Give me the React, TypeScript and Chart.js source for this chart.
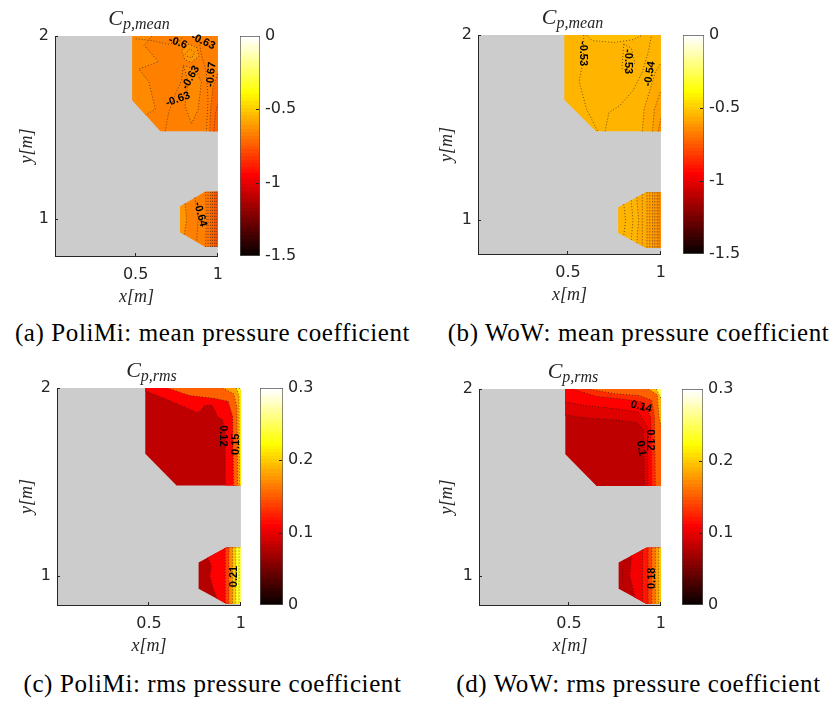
import React, { useEffect, useRef } from 'react';
import Chart from 'chart.js/auto';

type Pt = [number, number];
type Band = { v: number; line: Pt[]; rim: Pt[] };
type Lbl = { t: string; x: number; y: number; r: number };

// ---------- axes / colour scales ----------
const X_TICKS = [0.5, 1];
const Y_TICKS = [1, 2];
const MEAN_RANGE: Pt = [-1.5, 0];
const RMS_RANGE: Pt = [0, 0.3];
const MEAN_TICKS = [-1.5, -1, -0.5, 0];
const RMS_TICKS = [0, 0.1, 0.2, 0.3];

// ---------- measured regions (x, y in m) ----------
const REGION_UPPER: Pt[] = [[0.48, 2], [0.48, 1.65], [0.65, 1.48], [1, 1.48], [1, 2]];
const REGION_LOWER: Pt[] = [[0.92, 1.15], [0.77, 1.07], [0.77, 0.93], [0.92, 0.85], [1, 0.85], [1, 1.15]];
const RIM_UP_R: Pt[] = [[1, 1.48], [1, 2]];
const RIM_UP_RT: Pt[] = [[1, 1.48], [1, 2], [0.48, 2]];
const RIM_LO_A: Pt[] = [[0.92, 0.85], [1, 0.85], [1, 1.15], [0.92, 1.15]];
const RIM_LO_B: Pt[] = [[1, 0.85], [1, 1.15]];

// ---------- (a) PoliMi mean ----------
const A_UP_LEVEL = -0.67;
const A_UP_BANDS: Band[] = [
  { v: -0.645, line: [[0.6, 2], [0.55, 1.95], [0.64, 1.86], [0.52, 1.82], [0.58, 1.75], [0.62, 1.6], [0.56, 1.57]], rim: [[0.48, 1.65], [0.48, 2]] },
  { v: -0.645, line: [[0.79, 1.84], [0.86, 1.82], [0.9, 1.75], [0.88, 1.6], [0.84, 1.52], [0.8, 1.62], [0.82, 1.75], [0.79, 1.84]], rim: [] },
  { v: -0.61, line: [[0.78, 1.92], [0.82, 1.955], [0.87, 1.94], [0.885, 1.89], [0.84, 1.855], [0.8, 1.87], [0.78, 1.92]], rim: [] },
  { v: -0.71, line: [[0.95, 1.48], [0.955, 1.6], [0.97, 1.72], [1, 1.8]], rim: [[1, 1.48]] },
  { v: -0.75, line: [[0.975, 1.48], [0.985, 1.58], [1, 1.63]], rim: [[1, 1.48]] },
];
const A_UP_LINES: Pt[][] = [
  [[0.5, 1.985], [0.6, 1.975], [0.7, 1.955], [0.77, 1.975], [0.79, 2]],
  [[0.68, 1.48], [0.7, 1.58], [0.74, 1.68], [0.78, 1.76], [0.79, 1.84]],
  [[0.88, 2], [0.9, 1.9], [0.93, 1.8], [0.94, 1.65], [0.93, 1.48]],
  [[0.8, 1.9], [0.83, 1.93], [0.86, 1.91], [0.84, 1.88], [0.81, 1.89]],
];
const A_LO_LEVEL = -0.67;
const A_LO_BANDS: Band[] = [
  { v: -0.63, line: [[0.8, 1.086], [0.81, 1.0], [0.795, 0.917]], rim: [[0.77, 0.93], [0.77, 1.07]] },
  { v: -0.7, line: [[0.925, 1.15], [0.93, 1.0], [0.925, 0.85]], rim: RIM_LO_B },
  { v: -0.73, line: [[0.955, 1.15], [0.955, 0.85]], rim: RIM_LO_B },
  { v: -0.77, line: [[0.98, 1.15], [0.98, 0.85]], rim: RIM_LO_B },
];
const A_LO_LINES: Pt[][] = [
  [[0.86, 1.118], [0.88, 1.0], [0.87, 0.877]],
  [[0.94, 1.15], [0.94, 0.85]],
  [[0.967, 1.15], [0.967, 0.85]],
  [[0.99, 1.15], [0.99, 0.85]],
];
const A_LABELS: Lbl[] = [
  { t: '-0.6', x: 0.757, y: 1.964, r: 20 },
  { t: '-0.63', x: 0.91, y: 1.97, r: 25 },
  { t: '-0.63', x: 0.835, y: 1.773, r: -60 },
  { t: '-0.67', x: 0.96, y: 1.79, r: -85 },
  { t: '-0.63', x: 0.757, y: 1.655, r: -20 },
  { t: '-0.64', x: 0.893, y: 1.027, r: 75 },
];

// ---------- (b) WoW mean ----------
const B_UP_LEVEL = -0.55;
const B_UP_BANDS: Band[] = [
  { v: -0.53, line: [[0.6, 2], [0.63, 1.97], [0.75, 1.96], [0.85, 1.975], [0.9, 2]], rim: [] },
  { v: -0.57, line: [[0.9, 1.48], [0.91, 1.6], [0.94, 1.7], [0.97, 1.8], [1, 1.85]], rim: [[1, 1.48]] },
  { v: -0.6, line: [[0.955, 1.48], [0.965, 1.6], [1, 1.7]], rim: [[1, 1.48]] },
  { v: -0.64, line: [[0.985, 1.48], [1, 1.55]], rim: [[1, 1.48]] },
];
const B_UP_LINES: Pt[][] = [
  [[0.585, 2], [0.58, 1.85], [0.56, 1.75], [0.6, 1.6], [0.66, 1.48]],
  [[0.8, 1.95], [0.84, 1.93], [0.86, 1.85], [0.83, 1.8], [0.79, 1.82], [0.8, 1.95]],
  [[0.7, 1.48], [0.72, 1.58], [0.78, 1.62], [0.85, 1.7], [0.9, 1.8], [0.93, 1.9], [0.95, 2]],
];
const B_LO_LEVEL = -0.55;
const B_LO_BANDS: Band[] = [
  { v: -0.57, line: [[0.87, 1.123], [0.88, 1.0], [0.87, 0.877]], rim: RIM_LO_A },
  { v: -0.6, line: [[0.925, 1.15], [0.925, 0.85]], rim: RIM_LO_B },
  { v: -0.62, line: [[0.955, 1.15], [0.955, 0.85]], rim: RIM_LO_B },
  { v: -0.64, line: [[0.98, 1.15], [0.98, 0.85]], rim: RIM_LO_B },
];
const B_LO_LINES: Pt[][] = [
  [[0.8, 1.086], [0.81, 1.0], [0.8, 0.914]],
  [[0.84, 1.107], [0.85, 1.0], [0.84, 0.893]],
  [[0.9, 1.139], [0.9, 0.861]],
  [[0.94, 1.15], [0.94, 0.85]],
  [[0.967, 1.15], [0.967, 0.85]],
  [[0.99, 1.15], [0.99, 0.85]],
];
const B_LABELS: Lbl[] = [
  { t: '-0.53', x: 0.582, y: 1.9, r: 90 },
  { t: '-0.53', x: 0.824, y: 1.856, r: 90 },
  { t: '-0.54', x: 0.94, y: 1.79, r: -80 },
];

// ---------- (c) PoliMi rms ----------
const C_UP_LEVEL = 0.082;
const C_UP_BANDS: Band[] = [
  { v: 0.11, line: [[0.48, 1.985], [0.62, 1.93], [0.76, 1.87], [0.78, 1.875], [0.8, 1.905], [0.84, 1.91], [0.86, 1.88], [0.87, 1.85], [0.9, 1.83], [0.915, 1.75], [0.915, 1.48]], rim: RIM_UP_RT },
  { v: 0.15, line: [[0.6, 2], [0.72, 1.96], [0.85, 1.945], [0.93, 1.93], [0.955, 1.85], [0.96, 1.48]], rim: RIM_UP_R },
  { v: 0.18, line: [[0.9, 2], [0.96, 1.97], [0.978, 1.9], [0.982, 1.48]], rim: RIM_UP_R },
  { v: 0.22, line: [[0.975, 2], [0.99, 1.96], [0.993, 1.48]], rim: RIM_UP_R },
  { v: 0.27, line: [[0.99, 2], [1, 1.985]], rim: [[1, 2]] },
];
const C_UP_LINES: Pt[][] = [];
const C_LO_LEVEL = 0.077;
const C_LO_BANDS: Band[] = [
  { v: 0.11, line: [[0.82, 1.097], [0.84, 1.05], [0.83, 1.0], [0.85, 0.93], [0.87, 0.877]], rim: RIM_LO_A },
  { v: 0.14, line: [[0.915, 1.147], [0.915, 0.853]], rim: RIM_LO_A },
  { v: 0.17, line: [[0.935, 1.15], [0.935, 0.85]], rim: RIM_LO_B },
  { v: 0.2, line: [[0.955, 1.15], [0.955, 0.85]], rim: RIM_LO_B },
  { v: 0.23, line: [[0.972, 1.15], [0.972, 0.85]], rim: RIM_LO_B },
  { v: 0.25, line: [[0.99, 1.15], [0.99, 0.85]], rim: RIM_LO_B },
];
const C_LO_LINES: Pt[][] = [];
const C_LABELS: Lbl[] = [
  { t: '0.12', x: 0.905, y: 1.745, r: 90 },
  { t: '0.15', x: 0.972, y: 1.7, r: -90 },
  { t: '0.21', x: 0.964, y: 0.996, r: -90 },
];

// ---------- (d) WoW rms ----------
const D_UP_LEVEL = 0.082;
const D_UP_BANDS: Band[] = [
  { v: 0.095, line: [[0.48, 1.86], [0.6, 1.845], [0.75, 1.835], [0.87, 1.82], [0.905, 1.78], [0.91, 1.48]], rim: RIM_UP_RT },
  { v: 0.11, line: [[0.48, 1.93], [0.6, 1.91], [0.75, 1.895], [0.88, 1.875], [0.925, 1.8], [0.93, 1.48]], rim: RIM_UP_RT },
  { v: 0.13, line: [[0.52, 2], [0.65, 1.96], [0.8, 1.945], [0.9, 1.93], [0.945, 1.85], [0.95, 1.48]], rim: RIM_UP_R },
  { v: 0.15, line: [[0.6, 2], [0.75, 1.975], [0.88, 1.965], [0.95, 1.94], [0.965, 1.85], [0.97, 1.48]], rim: RIM_UP_R },
  { v: 0.19, line: [[0.93, 2], [0.98, 1.97], [0.99, 1.85], [1, 1.8]], rim: [[1, 2]] },
  { v: 0.25, line: [[0.975, 2], [1, 1.95]], rim: [[1, 2]] },
];
const D_UP_LINES: Pt[][] = [];
const D_LO_LEVEL = 0.082;
const D_LO_BANDS: Band[] = [
  { v: 0.105, line: [[0.84, 1.107], [0.83, 1.0], [0.86, 0.882]], rim: RIM_LO_A },
  { v: 0.12, line: [[0.9, 1.139], [0.9, 0.861]], rim: RIM_LO_A },
  { v: 0.14, line: [[0.93, 1.15], [0.93, 0.85]], rim: RIM_LO_B },
  { v: 0.16, line: [[0.95, 1.15], [0.95, 0.85]], rim: RIM_LO_B },
  { v: 0.18, line: [[0.97, 1.15], [0.97, 0.85]], rim: RIM_LO_B },
  { v: 0.2, line: [[0.988, 1.15], [0.988, 0.85]], rim: RIM_LO_B },
];
const D_LO_LINES: Pt[][] = [[[0.8, 1.086], [0.79, 1.0], [0.8, 0.914]]];
const D_LABELS: Lbl[] = [
  { t: '0.14', x: 0.893, y: 1.905, r: 15 },
  { t: '0.12', x: 0.942, y: 1.727, r: 90 },
  { t: '0.1', x: 0.893, y: 1.682, r: 80 },
  { t: '0.18', x: 0.954, y: 0.986, r: -90 },
];

const CAPTIONS = [
  '(a) PoliMi: mean pressure coefficient',
  '(b) WoW: mean pressure coefficient',
  '(c) PoliMi: rms pressure coefficient',
  '(d) WoW: rms pressure coefficient',
];

// ---------- helpers ----------
function hot(t: number): string {
  const k = Math.max(0, Math.min(63, Math.floor(t * 64)));
  const r = Math.min(1, (k + 1) / 24);
  const g = Math.max(0, Math.min(1, (k + 1 - 24) / 24));
  const b = Math.max(0, Math.min(1, (k + 1 - 48) / 16));
  return `rgb(${Math.round(r * 255)},${Math.round(g * 255)},${Math.round(b * 255)})`;
}

const AX = '#262626';
const TICK_FONT = { family: '"DejaVu Sans", sans-serif', size: 16 };
const AX_TITLE_FONT = { family: '"Liberation Serif", serif', size: 18, style: 'italic' as const };

function closed(pts: Pt[]) {
  const d = pts.map((p) => ({ x: p[0], y: p[1] }));
  d.push({ x: pts[0][0], y: pts[0][1] });
  return d;
}
function fillDs(pts: Pt[], color: string) {
  return {
    data: closed(pts), showLine: true, fill: 'shape', backgroundColor: color,
    borderColor: 'rgba(0,0,0,0)', borderWidth: 0, pointRadius: 0, tension: 0,
  };
}
function lineDs(pts: Pt[]) {
  return {
    data: pts.map((p) => ({ x: p[0], y: p[1] })), showLine: true, fill: false,
    borderColor: 'rgba(25,25,25,0.8)', borderWidth: 0.8, borderDash: [1, 2],
    pointRadius: 0, tension: 0,
  };
}

type PanelCfg = {
  range: Pt; upLevel: number; upBands: Band[]; upLines: Pt[][];
  loLevel: number; loBands: Band[]; loLines: Pt[][]; labels: Lbl[];
  xMin: number; yMin: number;
  canvas: { left: number; top: number; w: number; h: number };
  plot: { l: number; r: number; t: number; b: number };
};

function mainConfig(p: PanelCfg): any {
  const col = (v: number) => hot((v - p.range[0]) / (p.range[1] - p.range[0]));
  const ds: any[] = [];
  ds.push(fillDs(REGION_UPPER, col(p.upLevel)));
  p.upBands.forEach((b) => ds.push(fillDs([...b.line, ...b.rim], col(b.v))));
  ds.push(fillDs(REGION_LOWER, col(p.loLevel)));
  p.loBands.forEach((b) => ds.push(fillDs([...b.line, ...b.rim], col(b.v))));
  [...p.upBands.map((b) => b.line), ...p.loBands.map((b) => b.line), ...p.upLines, ...p.loLines]
    .forEach((l) => ds.push(lineDs(l)));
  ds.reverse();

  const c = p.canvas;
  const bgPlugin = {
    id: 'bg',
    beforeDraw(chart: any) {
      const { ctx, chartArea: a } = chart;
      ctx.save();
      ctx.fillStyle = '#cccccc';
      ctx.fillRect(a.left, a.top, a.right - a.left, a.bottom - a.top);
      ctx.restore();
    },
  };
  const tickPlugin = {
    id: 'inticks',
    afterDatasetsDraw(chart: any) {
      const { ctx, chartArea: a, scales } = chart;
      ctx.save();
      ctx.strokeStyle = AX;
      ctx.lineWidth = 1;
      ctx.beginPath();
      X_TICKS.forEach((v) => {
        const px = Math.round(scales.x.getPixelForValue(v)) - 0.5;
        ctx.moveTo(px, a.bottom); ctx.lineTo(px, a.bottom - 3);
      });
      Y_TICKS.forEach((v) => {
        const py = Math.round(scales.y.getPixelForValue(v)) + 0.5;
        ctx.moveTo(a.left, py); ctx.lineTo(a.left + 3, py);
      });
      ctx.stroke();
      ctx.restore();
    },
  };
  const labelPlugin = {
    id: 'clabels',
    afterDatasetsDraw(chart: any) {
      const { ctx, scales } = chart;
      ctx.save();
      ctx.font = 'bold 11px "Liberation Sans", sans-serif';
      ctx.fillStyle = '#000';
      ctx.textAlign = 'center';
      ctx.textBaseline = 'middle';
      p.labels.forEach((l) => {
        ctx.save();
        ctx.translate(scales.x.getPixelForValue(l.x), scales.y.getPixelForValue(l.y));
        ctx.rotate((l.r * Math.PI) / 180);
        ctx.fillText(l.t, 0, 0);
        ctx.restore();
      });
      ctx.restore();
    },
  };

  return {
    type: 'scatter',
    data: { datasets: ds },
    options: {
      responsive: false, animation: false, events: [],
      layout: { padding: { left: 0, right: c.w - (p.plot.r - c.left), top: p.plot.t - c.top, bottom: 0 } },
      plugins: { legend: { display: false }, tooltip: { enabled: false } },
      scales: {
        x: {
          type: 'linear', min: p.xMin, max: 1,
          grid: { display: false, drawTicks: false },
          border: { display: true, color: AX, width: 1 },
          ticks: { font: TICK_FONT, color: AX, padding: 9, autoSkip: false, maxRotation: 0, callback: (v: number) => String(v) },
          afterBuildTicks: (s: any) => { s.ticks = X_TICKS.map((v) => ({ value: v })); },
          afterFit: (s: any) => { s.height = c.h - (p.plot.b - c.top); },
          title: { display: true, text: 'x[m]', font: AX_TITLE_FONT, color: AX, padding: { top: 0, bottom: 0 } },
        },
        y: {
          type: 'linear', min: p.yMin, max: 2,
          grid: { display: false, drawTicks: false },
          border: { display: true, color: AX, width: 1 },
          ticks: { font: TICK_FONT, color: AX, padding: 6, autoSkip: false, callback: (v: number) => String(v) },
          afterBuildTicks: (s: any) => { s.ticks = Y_TICKS.map((v) => ({ value: v })); },
          afterFit: (s: any) => { s.width = p.plot.l - c.left; },
          title: { display: true, text: 'y[m]', font: AX_TITLE_FONT, color: AX, padding: { top: 16, bottom: 0 } },
        },
      },
    },
    plugins: [bgPlugin, tickPlugin, labelPlugin],
  };
}

type CbCfg = {
  range: Pt; ticks: number[];
  canvas: { left: number; top: number; w: number; h: number };
  bar: { l: number; r: number; t: number; b: number };
};

function cbConfig(p: CbCfg): any {
  const c = p.canvas;
  const grad = (ctx: any) => {
    const chart = ctx.chart;
    const a = chart.chartArea;
    if (!a) return '#000';
    const g = chart.ctx.createLinearGradient(0, a.bottom, 0, a.top);
    for (let k = 0; k < 64; k++) {
      const col = hot((k + 0.5) / 64);
      g.addColorStop(k / 64, col);
      g.addColorStop((k + 1) / 64, col);
    }
    return g;
  };
  const tickPlugin = {
    id: 'cbticks',
    afterDatasetsDraw(chart: any) {
      const { ctx, chartArea: a, scales } = chart;
      ctx.save();
      ctx.strokeStyle = AX;
      ctx.lineWidth = 1;
      ctx.beginPath();
      p.ticks.slice(1, -1).forEach((v) => {
        const py = Math.round(scales.y.getPixelForValue(v)) + 0.5;
        ctx.moveTo(a.right - 1, py); ctx.lineTo(a.right - 4, py);
      });
      ctx.stroke();
      ctx.restore();
    },
  };
  return {
    type: 'bar',
    data: {
      labels: [''],
      datasets: [{
        data: [[p.range[0], p.range[1]]], backgroundColor: grad, borderColor: '#555555',
        borderWidth: 1, borderSkipped: false, barPercentage: 1, categoryPercentage: 1,
      }],
    },
    options: {
      responsive: false, animation: false, events: [],
      layout: { padding: { left: p.bar.l - c.left, right: 0, top: p.bar.t - c.top, bottom: c.h - (p.bar.b - c.top) } },
      plugins: { legend: { display: false }, tooltip: { enabled: false } },
      scales: {
        x: { display: false },
        y: {
          position: 'right', min: p.range[0], max: p.range[1],
          grid: { display: false, drawTicks: false },
          border: { display: false },
          ticks: { font: TICK_FONT, color: AX, padding: 5, autoSkip: false, callback: (v: number) => String(v) },
          afterBuildTicks: (s: any) => { s.ticks = p.ticks.map((v) => ({ value: v })); },
          afterFit: (s: any) => { s.width = c.w - (p.bar.r - c.left); },
        },
      },
    },
    plugins: [tickPlugin],
  };
}

function ChartCanvas({ canvas, config }: { canvas: { left: number; top: number; w: number; h: number }; config: () => any }) {
  const ref = useRef<HTMLCanvasElement | null>(null);
  useEffect(() => {
    if (!ref.current) return;
    const chart = new Chart(ref.current, config());
    return () => chart.destroy();
  }, []);
  return (
    <canvas ref={ref} width={canvas.w} height={canvas.h}
      style={{ position: 'absolute', left: canvas.left, top: canvas.top, width: canvas.w, height: canvas.h }} />
  );
}

function Title({ plot, sub }: { plot: { l: number; r: number; t: number }; sub: string }) {
  const cx = (plot.l + plot.r) / 2;
  return (
    <div style={{
      position: 'absolute', left: cx - 100, width: 200, top: plot.t - 29, textAlign: 'center',
      fontFamily: '"Liberation Serif", serif', fontStyle: 'italic', color: '#262626', lineHeight: 1,
      fontSize: 22, whiteSpace: 'nowrap',
    }}>
      <span style={{ fontSize: 22 }}>C</span>
      <span style={{ fontSize: 16, position: 'relative', top: 4 }}>{sub}</span>
    </div>
  );
}

function Caption({ cx, top, text }: { cx: number; top: number; text: string }) {
  return (
    <div style={{
      position: 'absolute', left: cx - 220, width: 440, top, textAlign: 'center',
      fontFamily: '"Liberation Serif", serif', fontSize: 25, lineHeight: 1, letterSpacing: 0.6,
      color: '#000', whiteSpace: 'nowrap',
    }}>{text}</div>
  );
}

const PANELS: { main: PanelCfg; cb: CbCfg; sub: string }[] = [
  {
    sub: 'p,mean',
    main: {
      range: MEAN_RANGE, upLevel: A_UP_LEVEL, upBands: A_UP_BANDS, upLines: A_UP_LINES,
      loLevel: A_LO_LEVEL, loBands: A_LO_BANDS, loLines: A_LO_LINES, labels: A_LABELS,
      xMin: 0.01, yMin: 0.8,
      canvas: { left: 0, top: 0, w: 232, h: 308 }, plot: { l: 55, r: 223, t: 36, b: 256 },
    },
    cb: { range: MEAN_RANGE, ticks: MEAN_TICKS, canvas: { left: 232, top: 0, w: 90, h: 308 }, bar: { l: 240, r: 260, t: 36, b: 256 } },
  },
  {
    sub: 'p,mean',
    main: {
      range: MEAN_RANGE, upLevel: B_UP_LEVEL, upBands: B_UP_BANDS, upLines: B_UP_LINES,
      loLevel: B_LO_LEVEL, loBands: B_LO_BANDS, loLines: B_LO_LINES, labels: B_LABELS,
      xMin: 0.016, yMin: 0.817,
      canvas: { left: 420, top: 0, w: 255, h: 306 }, plot: { l: 478, r: 667, t: 35, b: 254 },
    },
    cb: { range: MEAN_RANGE, ticks: MEAN_TICKS, canvas: { left: 675, top: 0, w: 100, h: 306 }, bar: { l: 683, r: 704, t: 35, b: 254 } },
  },
  {
    sub: 'p,rms',
    main: {
      range: RMS_RANGE, upLevel: C_UP_LEVEL, upBands: C_UP_BANDS, upLines: C_UP_LINES,
      loLevel: C_LO_LEVEL, loBands: C_LO_BANDS, loLines: C_LO_LINES, labels: C_LABELS,
      xMin: 0, yMin: 0.844,
      canvas: { left: 0, top: 350, w: 255, h: 307 }, plot: { l: 57, r: 246, t: 388, b: 605 },
    },
    cb: { range: RMS_RANGE, ticks: RMS_TICKS, canvas: { left: 255, top: 350, w: 90, h: 307 }, bar: { l: 260, r: 283, t: 388, b: 605 } },
  },
  {
    sub: 'p,rms',
    main: {
      range: RMS_RANGE, upLevel: D_UP_LEVEL, upBands: D_UP_BANDS, upLines: D_UP_LINES,
      loLevel: D_LO_LEVEL, loBands: D_LO_BANDS, loLines: D_LO_LINES, labels: D_LABELS,
      xMin: 0.0105, yMin: 0.843,
      canvas: { left: 420, top: 350, w: 255, h: 307 }, plot: { l: 479, r: 667, t: 389, b: 605 },
    },
    cb: { range: RMS_RANGE, ticks: RMS_TICKS, canvas: { left: 675, top: 350, w: 100, h: 307 }, bar: { l: 682, r: 703, t: 389, b: 605 } },
  },
];

const CAPTION_POS = [
  { cx: 212.5, top: 320 },
  { cx: 638.5, top: 320 },
  { cx: 212.5, top: 671 },
  { cx: 638.5, top: 671 },
];

export default function App() {
  return (
    <div style={{ position: 'absolute', left: 0, top: 0, width: 832, height: 702, background: '#ffffff', overflow: 'hidden' }}>
      {PANELS.map((p, i) => (
        <React.Fragment key={i}>
          <ChartCanvas canvas={p.main.canvas} config={() => mainConfig(p.main)} />
          <ChartCanvas canvas={p.cb.canvas} config={() => cbConfig(p.cb)} />
          <Title plot={p.main.plot} sub={p.sub} />
        </React.Fragment>
      ))}
      {CAPTIONS.map((t, i) => (
        <Caption key={i} cx={CAPTION_POS[i].cx} top={CAPTION_POS[i].top} text={t} />
      ))}
    </div>
  );
}
